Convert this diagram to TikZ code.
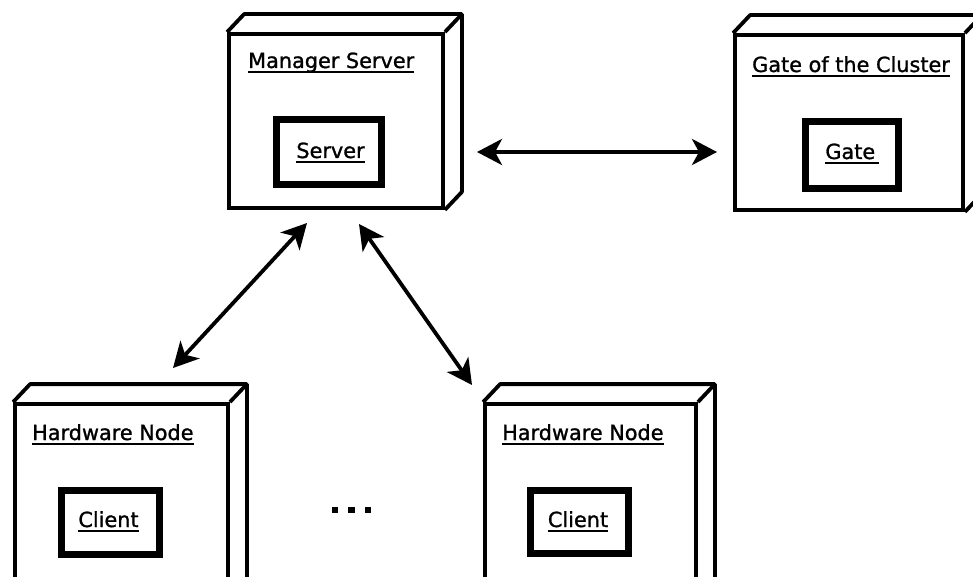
\documentclass[tikz,border=0pt]{standalone}
\usepackage{fontspec}
\setmainfont{DejaVu Sans}
\newfontface\labelfont{DejaVu Sans}[FakeBold=1.2]
\usetikzlibrary{arrows.meta,calc}

% underlined label with a fixed rule offset below the baseline
\newcommand\ulabel[1]{\setbox0\hbox{#1}\rlap{\rule[-5pt]{\wd0}{1.9pt}}\box0}

\tikzset{
  front/.style={draw, line width=3.8pt, fill=white, inner sep=0pt},
  artifact/.style={draw, line width=7pt, fill=white, inner sep=0pt},
  nodetitle/.style={inner sep=0pt, anchor=base west, font=\labelfont\fontsize{20.8}{24}\selectfont},
  arttitle/.style={inner sep=0pt, anchor=base, font=\labelfont\fontsize{20.8}{24}\selectfont},
  link/.style={line width=3.8pt, {Stealth[length=25pt,width=26pt,inset=7pt]}-{Stealth[length=25pt,width=26pt,inset=7pt]}},
  dot/.style={fill=black, minimum size=6.5pt, inner sep=0pt},
}

% 3D deployment box: depth faces behind a front-face node
\newcommand\depthfaces[1]{%
  \draw[line width=3.8pt, line join=round]
    (#1.north west) -- ++(17,-18) -- ($(#1.north east)+(17,-18)$)
    -- ($(#1.south east)+(17,-18)$) -- (#1.south east);
  \draw[line width=3.8pt] (#1.north east) -- ++(17,-18);
}

\begin{document}
\begin{tikzpicture}[x=1pt, y=-1pt]
\useasboundingbox (0,0) rectangle (973,577);
\clip (0,0) rectangle (973,577);

% front faces
\node[front, minimum width=214pt, minimum height=174pt] (mgr) at (336,121) {};
\node[front, minimum width=228pt, minimum height=175pt] (gate) at (849,122.5) {};
\node[front, minimum width=213pt, minimum height=190pt] (hwa) at (121.5,499) {};
\node[front, minimum width=211pt, minimum height=190pt] (hwb) at (590.5,499) {};

\depthfaces{mgr}
\depthfaces{gate}
\depthfaces{hwa}
\depthfaces{hwb}

% box titles
\node[nodetitle] (mgrtitle) at (248,68) {\ulabel{Manager Server}};
\node[nodetitle] (gatetitle) at (752,72) {\ulabel{Gate of the Cluster}};
\node[nodetitle] (hwatitle) at (32,440) {\ulabel{Hardware Node}};
\node[nodetitle] (hwbtitle) at (502,440) {\ulabel{Hardware Node}};

% deployed artifacts
\node[artifact, minimum width=105pt, minimum height=65pt] (srv) at (329,152) {};
\node[artifact, minimum width=93pt, minimum height=67pt] (gt) at (852,155) {};
\node[artifact, minimum width=98pt, minimum height=64pt] (cla) at (110.5,522.5) {};
\node[artifact, minimum width=98pt, minimum height=63pt] (clb) at (579.5,522) {};

\node[arttitle] (srvtxt) at (330.5,158) {\ulabel{Server}};
\node[arttitle] (gttxt) at (852,159) {\ulabel{Gate\,}};
\node[arttitle] (clatxt) at (108.5,527) {\ulabel{Client}};
\node[arttitle] (clbtxt) at (578,527) {\ulabel{Client}};

% ellipsis between hardware nodes
\node[dot] (d1) at (335,510) {};
\node[dot] (d2) at (351.5,510) {};
\node[dot] (d3) at (368,510) {};

% connector ends
\coordinate (mgrE) at (477,152);
\coordinate (gateW) at (717,152);
\coordinate (mgrSW) at (307,223);
\coordinate (hwaN) at (173,368);
\coordinate (mgrSE) at (359,224);
\coordinate (hwbN) at (472,385);

\draw[link] (mgrE) -- (gateW);
\draw[link] (mgrSW) -- (hwaN);
\draw[link] (mgrSE) -- (hwbN);
\end{tikzpicture}
\end{document}
